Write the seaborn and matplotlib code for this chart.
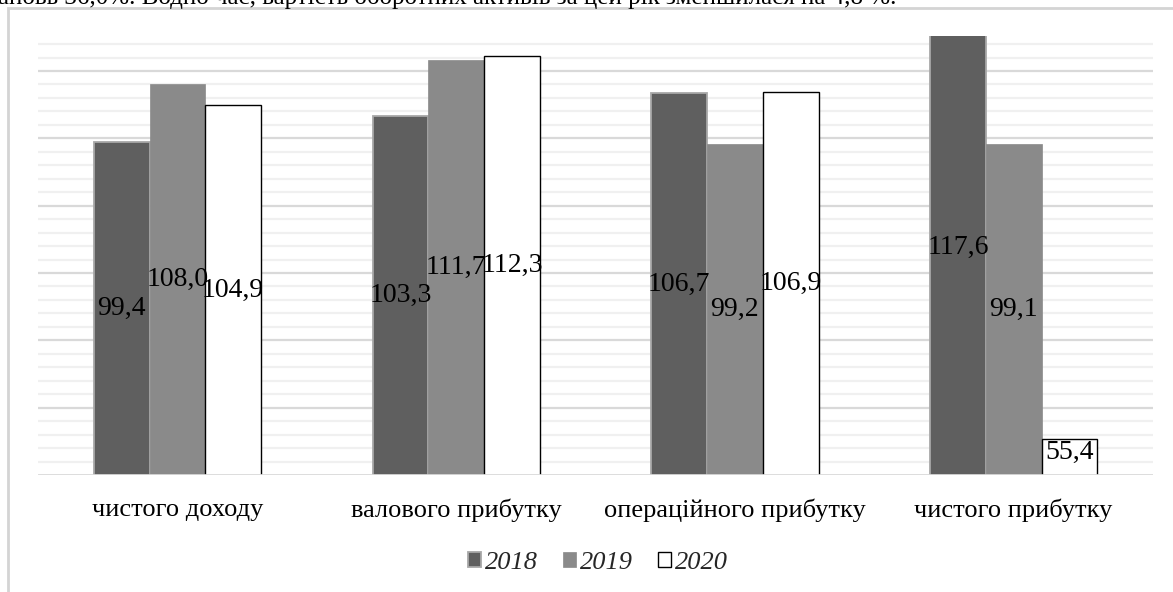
import matplotlib
matplotlib.use("Agg")
import matplotlib.pyplot as plt
import seaborn as sns
import pandas as pd
import numpy as np
from matplotlib.patches import Rectangle

categories = ["чистого доходу", "валового прибутку", "операційного прибутку", "чистого прибутку"]
years = ["2018", "2019", "2020"]
v2018 = [99.4, 103.3, 106.7, 117.6]
v2019 = [108.0, 111.7, 99.2, 99.1]
v2020 = [104.9, 112.3, 106.9, 55.4]

rows = []
for yr, vals in zip(years, [v2018, v2019, v2020]):
    for c, v in zip(categories, vals):
        rows.append({"cat": c, "year": yr, "value": v})
df = pd.DataFrame(rows)

sns.set_theme(style="white")
plt.rcParams["font.family"] = ["Liberation Serif", "DejaVu Serif"]

W, H = 1173, 592
fig = plt.figure(figsize=(W / 100, H / 100), dpi=100)
ax = fig.add_axes([38 / W, (H - 475) / H, 1115 / W, 439 / H])

palette = {"2018": "#5f5f5f", "2019": "#8a8a8a", "2020": "#ffffff"}
edges = {"2018": "#a8a8a8", "2019": "#8a8a8a", "2020": "#000000"}
lws = {"2018": 1.3, "2019": 0.5, "2020": 1.0}

sns.barplot(data=df, x="cat", y="value", hue="year", order=categories,
            hue_order=years, palette=palette, width=0.6, ax=ax,
            legend=True, zorder=3)

ymin, ymax = 50, 115.2
ax.set_ylim(ymin, ymax)

for cont, yr in zip(ax.containers, years):
    for bar in cont:
        bar.set_edgecolor(edges[yr])
        bar.set_linewidth(lws[yr])
    for bar, v in zip(cont, df[df.year == yr]["value"]):
        cx = bar.get_x() + bar.get_width() / 2
        cy = (ymin + v) / 2
        if v < 60:
            cy += 0.6
        ax.text(cx, cy, f"{v:.1f}".replace(".", ","), ha="center", va="center",
                fontsize=20, color="#000000", zorder=5)

# gridlines
for y in np.arange(52, 115, 2):
    major = (y % 10 == 0)
    ax.axhline(y, color="#d9d9d9" if major else "#f0f0f0", lw=1.6, zorder=1)
ax.axhline(50, color="#d9d9d9", lw=2.0, zorder=4)

for s in ax.spines.values():
    s.set_visible(False)
ax.set_yticks([])
ax.set_xlabel("")
ax.set_ylabel("")
ax.tick_params(axis="x", length=0, pad=17, labelsize=19, labelcolor="#000000")

handles, labels = ax.get_legend_handles_labels()
if ax.legend_:
    ax.legend_.remove()
leg = fig.legend(handles, labels, loc="center", bbox_to_anchor=(598 / W, (H - 563) / H),
                 ncol=3, frameon=False, handlelength=0.5, handleheight=0.5,
                 handletextpad=0.15, columnspacing=0.95,
                 prop={"family": "Liberation Serif", "style": "italic", "size": 19})
for h, yr in zip(leg.legend_handles, years):
    h.set_edgecolor(edges[yr])
    h.set_linewidth(lws[yr])

# chart frame (extends beyond image right/bottom)
fig.patches.append(Rectangle((8 / W, -0.1), 1.2, (H - 8) / H + 0.1, transform=fig.transFigure,
                             fill=False, edgecolor="#d4d4d4", lw=2.0, zorder=0))

# cut-off paragraph text above chart (as in the reference)
fig.text(-2 / W, (H - 4) / H,
         "ановь 36,0%. Водно час, вартість оборотних активів за цей рік зменшилася на 4,8 %.",
         ha="left", va="baseline", fontsize=18, color="#000000")

fig.savefig("out.png", dpi=100)
